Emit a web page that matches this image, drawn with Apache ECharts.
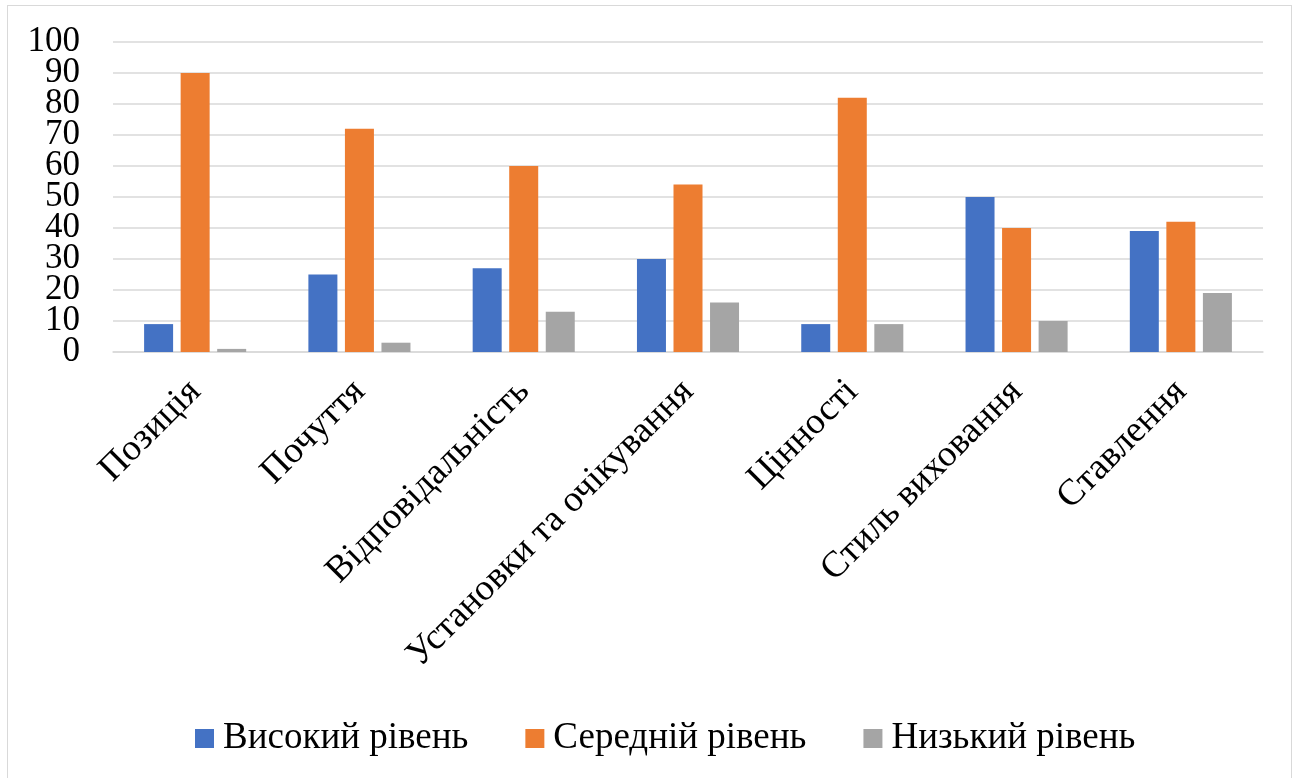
<!DOCTYPE html>
<html>
<head>
<meta charset="utf-8">
<script src="https://cdn.jsdelivr.net/npm/echarts@6/dist/echarts.min.js"></script>
<style>
  html, body { margin: 0; padding: 0; background: #fff; }
  #frame { position: absolute; left: 7px; top: 5px; width: 1285px; height: 790px; border: 1.5px solid #d9d9d9; box-sizing: border-box; }
  #chart { position: absolute; left: 0; top: 0; width: 1299px; height: 778px; }
</style>
</head>
<body>
<div id="frame"></div>
<div id="chart"></div>
<script>
const categories = ['Позиція', 'Почуття', 'Відповідальність', 'Установки та очікування', 'Цінності', 'Стиль виховання', 'Ставлення'];
const seriesNames = ['Високий рівень', 'Середній рівень', 'Низький рівень'];
const highLevel = [9, 25, 27, 30, 9, 50, 39];
const midLevel = [90, 72, 60, 54, 82, 40, 42];
const lowLevel = [1, 3, 13, 16, 9, 10, 19];
const colors = ['#4472C4', '#ED7D31', '#A5A5A5'];
const yMin = 0, yMax = 100, yStep = 10;

const font = "'Liberation Serif', 'Times New Roman', serif";
const chart = echarts.init(document.getElementById('chart'), null, { renderer: 'canvas' });

const yLabelStyle = { margin: 33, fontFamily: font, fontSize: 35, color: '#000' };

chart.setOption({
  animation: false,
  color: colors,
  textStyle: { fontFamily: font, color: '#000' },
  grid: { left: 113, right: 36, top: 42, bottom: 426, containLabel: false },
  legend: {
    bottom: 16,
    left: 190,
    itemWidth: 19,
    itemHeight: 19,
    itemGap: 57,
    icon: 'rect',
    textStyle: { fontFamily: font, fontSize: 37, color: '#000', padding: [0, 0, 0, 4] },
    data: seriesNames
  },
  xAxis: {
    type: 'category',
    data: categories,
    axisLine: { lineStyle: { color: '#d9d9d9', width: 1.5 } },
    axisTick: { show: false },
    axisLabel: { rotate: 45, interval: 0, margin: 34, fontFamily: font, fontSize: 37, color: '#000' }
  },
  yAxis: [
    {
      // main value axis: grid lines and the inner tick labels
      type: 'value',
      min: yMin, max: yMax, interval: yStep,
      axisLine: { show: false },
      axisTick: { show: false },
      splitLine: { lineStyle: { color: '#d9d9d9', width: 1.5 } },
      axisLabel: Object.assign({ showMinLabel: false, showMaxLabel: false }, yLabelStyle)
    },
    {
      // companion axis carrying only the end labels (0 and 100)
      type: 'value',
      position: 'left',
      min: yMin, max: yMax, interval: yStep,
      axisLine: { show: false },
      axisTick: { show: false },
      splitLine: { show: false },
      axisLabel: Object.assign({
        showMinLabel: true, showMaxLabel: true,
        formatter: v => (v === yMin || v === yMax) ? String(v) : ''
      }, yLabelStyle)
    }
  ],
  series: [
    { name: seriesNames[0], type: 'bar', yAxisIndex: 0, data: highLevel, barWidth: 29, barGap: '26%' },
    { name: seriesNames[1], type: 'bar', yAxisIndex: 0, data: midLevel, barWidth: 29, barGap: '26%' },
    { name: seriesNames[2], type: 'bar', yAxisIndex: 0, data: lowLevel, barWidth: 29, barGap: '26%' }
  ]
});
</script>
</body>
</html>
